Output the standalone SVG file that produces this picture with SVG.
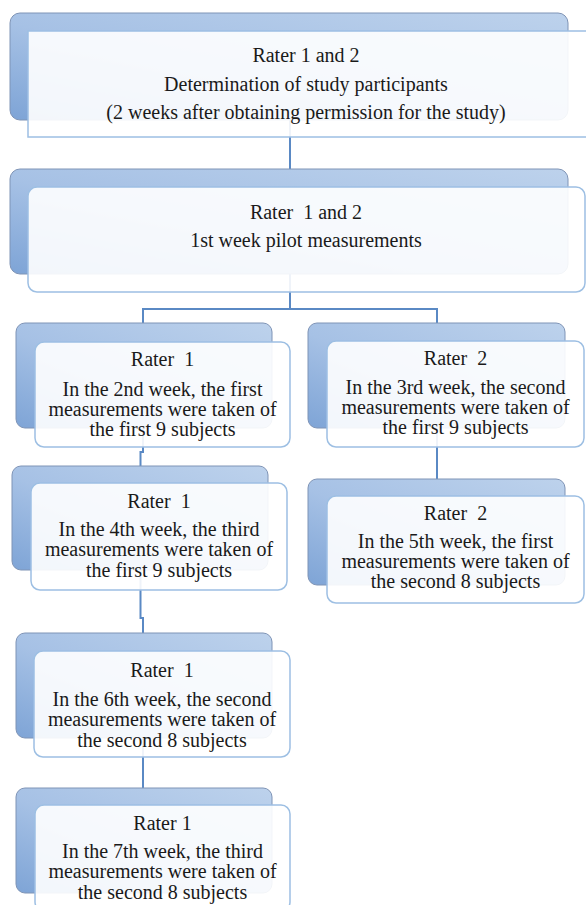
<svg xmlns="http://www.w3.org/2000/svg" width="586" height="905" viewBox="0 0 586 905">
<defs>
<linearGradient id="bg" x1="1" y1="0" x2="0" y2="1">
<stop offset="0" stop-color="#bdd2ec"/>
<stop offset="0.55" stop-color="#a6c1e5"/>
<stop offset="1" stop-color="#7ea4d6"/>
</linearGradient>
<style>
.back{fill:url(#bg);stroke:#7f94b6;stroke-width:1}
.front{fill:#ffffff;fill-opacity:0.9;stroke:#9dbfe3;stroke-width:1.5}
.conn{fill:none;stroke:#5a89c4;stroke-width:2}
text{font-family:"Liberation Serif","Times New Roman",serif;font-size:20px;fill:#1a1a1a;text-anchor:middle;white-space:pre}
</style>
</defs>
<rect width="586" height="905" fill="#ffffff"/>
<g id="connectors">
<path class="conn" d="M290 120 V169"/>
<path class="conn" d="M290 274 V309 M143 309 H437 M143 308 V323 M437 308 V323"/>
<path class="conn" d="M143 428 V452 H140.5 V466"/>
<path class="conn" d="M437 428 V479"/>
<path class="conn" d="M140.5 570 V618 H143 V633"/>
<path class="conn" d="M143 738 V788"/>
</g>
<g id="n1">
<rect class="back" x="10" y="13" width="558" height="107" rx="10"/>
<rect class="front" x="28" y="31" width="562" height="106"/>
<text x="306" y="62">Rater 1 and 2</text>
<text x="306" y="91">Determination of study participants</text>
<text x="306" y="119">(2 weeks after obtaining permission for the study)</text>
</g>
<g id="n2">
<rect class="back" x="10" y="169" width="558" height="105" rx="10"/>
<rect class="front" x="28" y="187" width="557" height="105" rx="9"/>
<text x="306" y="219">Rater  1 and 2</text>
<text x="306" y="247">1st week pilot measurements</text>
</g>
<g id="n3">
<rect class="back" x="16" y="323" width="256" height="105" rx="9"/>
<rect class="front" x="35" y="342" width="255" height="105" rx="9"/>
<text x="162.5" y="366">Rater  1</text>
<text x="162.5" y="396">In the 2nd week, the first</text>
<text x="162.5" y="416">measurements were taken of</text>
<text x="162.5" y="436">the first 9 subjects</text>
</g>
<g id="n4">
<rect class="back" x="308" y="323" width="257" height="105" rx="9"/>
<rect class="front" x="327" y="341" width="257" height="106" rx="9"/>
<text x="455.5" y="365">Rater  2</text>
<text x="455.5" y="394">In the 3rd week, the second</text>
<text x="455.5" y="414">measurements were taken of</text>
<text x="455.5" y="434">the first 9 subjects</text>
</g>
<g id="n5">
<rect class="back" x="12" y="466" width="256" height="104" rx="9"/>
<rect class="front" x="31" y="483" width="256" height="107" rx="9"/>
<text x="159" y="508">Rater  1</text>
<text x="159" y="536">In the 4th week, the third</text>
<text x="159" y="556">measurements were taken of</text>
<text x="159" y="577">the first 9 subjects</text>
</g>
<g id="n6">
<rect class="back" x="308" y="479" width="257" height="106" rx="9"/>
<rect class="front" x="327" y="496" width="257" height="107" rx="9"/>
<text x="455.5" y="520">Rater  2</text>
<text x="455.5" y="548">In the 5th week, the first</text>
<text x="455.5" y="568">measurements were taken of</text>
<text x="455.5" y="588">the second 8 subjects</text>
</g>
<g id="n7">
<rect class="back" x="16" y="633" width="256" height="105" rx="9"/>
<rect class="front" x="34" y="651" width="256" height="106" rx="9"/>
<text x="162" y="677">Rater  1</text>
<text x="162" y="706">In the 6th week, the second</text>
<text x="162" y="726">measurements were taken of</text>
<text x="162" y="747">the second 8 subjects</text>
</g>
<g id="n8">
<rect class="back" x="16" y="788" width="256" height="105" rx="9"/>
<rect class="front" x="35" y="805" width="255" height="106" rx="9"/>
<text x="162.5" y="830">Rater 1</text>
<text x="162.5" y="858">In the 7th week, the third</text>
<text x="162.5" y="878">measurements were taken of</text>
<text x="162.5" y="899">the second 8 subjects</text>
</g>
</svg>
